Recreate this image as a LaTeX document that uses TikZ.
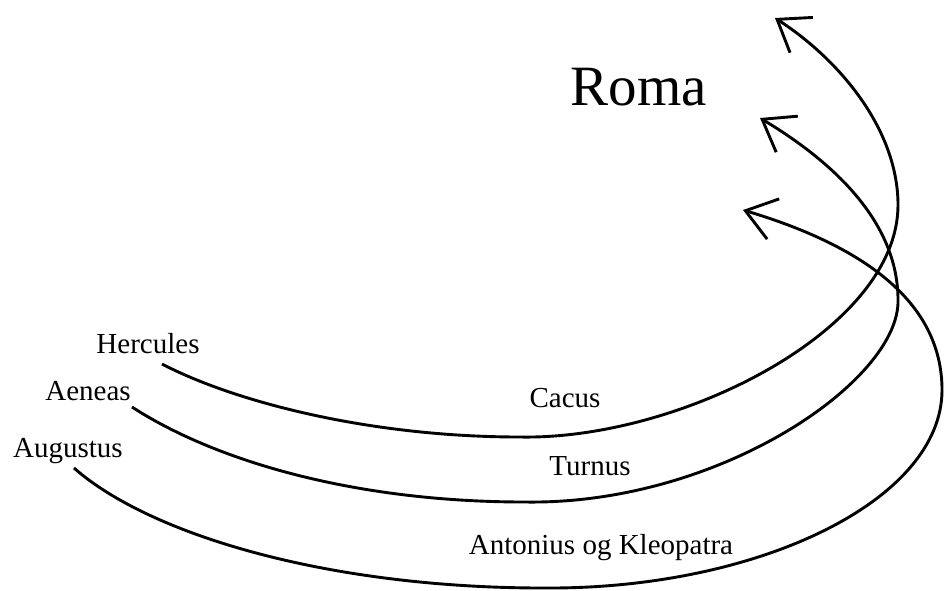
\documentclass[tikz,border=0pt]{standalone}
\usepackage{fontspec}
\setmainfont{Liberation Serif}
\usetikzlibrary{arrows.meta}
\begin{document}
\begin{tikzpicture}[x=1pt,y=-1pt,
  arc/.style={line width=2.9pt, -{Straight Barb[length=29pt,width=42pt,line width=2.9pt]}},
  lbl/.style={font=\fontsize{29}{34}\selectfont, anchor=base, inner sep=0pt},
  ttl/.style={font=\fontsize{57}{64}\selectfont, anchor=base, inner sep=0pt}]
\useasboundingbox (0,0) rectangle (944,590);

% labels
\node[ttl] (roma) at (639,105) {Roma};
\node[lbl] (hercules) at (148,353) {Hercules};
\node[lbl] (aeneas)   at (88,400)  {Aeneas};
\node[lbl] (augustus) at (68,457)  {Augustus};
\node[lbl] (cacus)    at (565,407) {Cacus};
\node[lbl] (turnus)   at (590,475) {Turnus};
\node[lbl] (antonius) at (601,554) {Antonius og Kleopatra};

% start and end points of the three arcs
\coordinate (h0) at (162,364);
\coordinate (h1) at (775,18);
\coordinate (a0) at (132,407);
\coordinate (a1) at (760,118);
\coordinate (g0) at (74,468);
\coordinate (g1) at (743,210);

% Hercules -- Cacus -- Roma
\draw[arc] (h0) .. controls (235,402) and (370,437) .. (520,437)
  .. controls (680,440) and (898,330) .. (898,205)
  .. controls (898,130) and (840,60) .. (h1);

% Aeneas -- Turnus -- Roma
\draw[arc] (a0) .. controls (212,459) and (350,502) .. (525,502)
  .. controls (720,505) and (900,380) .. (898,300)
  .. controls (898,220) and (830,160) .. (a1);

% Augustus -- Antonius og Kleopatra -- Roma
\draw[arc] (g0) .. controls (150,535) and (330,589) .. (550,588)
  .. controls (760,588) and (942,500) .. (942,390)
  .. controls (942,300) and (860,245) .. (g1);
\end{tikzpicture}
\end{document}
